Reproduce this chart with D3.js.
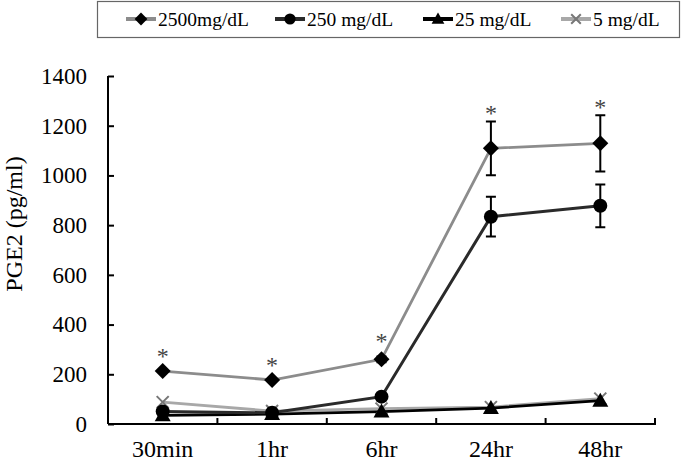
<!DOCTYPE html>
<html><head><meta charset="utf-8">
<script src="https://cdn.jsdelivr.net/npm/d3@7"></script>
<style>body{margin:0;background:#fff}svg{display:block}</style>
</head><body>
<svg id="c" width="683" height="464"></svg>
<script>
const categories = ["30min","1hr","6hr","24hr","48hr"];
const yTicks = [0,200,400,600,800,1000,1200,1400];
const seriesNames = ["2500mg/dL","250 mg/dL","25 mg/dL","5 mg/dL"];
const v2500 = [213,177,260,1109,1129];
const e2500 = [0,0,12,108,113];
const v250 = [50,45,110,834,878];
const e250 = [0,0,0,80,86];
const v25 = [35,40,50,64,94];
const v5 = [88,52,62,68,102];
const significant = [1,1,1,1,1];

const svg = d3.select("#c");
const font = "'Liberation Serif','Times New Roman',serif";
const x = d3.scaleBand().domain(categories).range([108,655]);
const y = d3.scaleLinear().domain([0,1400]).range([424,76]);

const series = [
  {name:seriesNames[0], vals:v2500, err:e2500, line:"#8c8c8c", mark:"#000", sym:"diamond"},
  {name:seriesNames[1], vals:v250, err:e250, line:"#2a2a2a", mark:"#000", sym:"circle"},
  {name:seriesNames[2], vals:v25, err:null, line:"#000", mark:"#000", sym:"triangle"},
  {name:seriesNames[3], vals:v5, err:null, line:"#a8a8a8", mark:"#777", sym:"x"}
];

// axes
const ya = d3.axisLeft(y).tickValues(yTicks).tickSize(-6).tickPadding(21).tickFormat(d3.format("d"));
const gy = svg.append("g").attr("transform","translate(108,0)").call(ya);
gy.select(".domain").attr("stroke","#000").attr("stroke-width",2).attr("d","M0,76V424");
gy.selectAll(".tick line").attr("stroke","#000").attr("stroke-width",2);
gy.selectAll(".tick text").attr("font-family",font).attr("font-size",23).attr("fill","#000");

const xa = d3.axisBottom(x).tickSize(0).tickPadding(0);
const gx = svg.append("g").attr("transform","translate(0,424)").call(xa);
gx.select(".domain").attr("stroke","#000").attr("stroke-width",2).attr("d","M108,0H655V-6");
gx.selectAll(".tick text").attr("font-family",font).attr("font-size",24).attr("fill","#000")
  .attr("y",33).attr("dy",0);
// boundary ticks
const bounds = categories.slice(1).map(c=>x(c));
svg.append("g").selectAll("line").data(bounds).join("line")
  .attr("x1",d=>d).attr("x2",d=>d).attr("y1",424).attr("y2",418)
  .attr("stroke","#000").attr("stroke-width",2);

// y label
svg.append("text").attr("transform","translate(22,224) rotate(-90)")
  .attr("text-anchor","middle").attr("font-family",font).attr("font-size",24).text("PGE2 (pg/ml)");

const cx = c => x(c) + x.bandwidth()/2;

function drawMarker(g, sym, color, px, py, scale){
  const s = scale||1;
  if(sym==="diamond"){
    g.append("path").attr("d",`M${px},${py-8*s}L${px+8*s},${py}L${px},${py+8*s}L${px-8*s},${py}Z`).attr("fill",color);
  } else if(sym==="circle"){
    g.append("circle").attr("cx",px).attr("cy",py).attr("r",7*s).attr("fill",color);
  } else if(sym==="triangle"){
    g.append("path").attr("d",`M${px},${py-8*s}L${px+8*s},${py+6*s}L${px-8*s},${py+6*s}Z`).attr("fill",color);
  } else {
    g.append("path").attr("d",`M${px-6*s},${py-6*s}L${px+6*s},${py+6*s}M${px+6*s},${py-6*s}L${px-6*s},${py+6*s}`)
      .attr("stroke",color).attr("stroke-width",2);
  }
}

const line = d3.line().x((d,i)=>cx(categories[i])).y(d=>y(d));
const plot = svg.append("g");
[3,2,1,0].forEach(k=>{
  const s = series[k];
  plot.append("path").datum(s.vals).attr("d",line).attr("fill","none")
    .attr("stroke",s.line).attr("stroke-width",k===1?3:2.8);
});
[3,2,1,0].forEach(k=>{
  const s = series[k];
  const g = plot.append("g");
  if(s.err){
    s.vals.forEach((v,i)=>{
      const e = s.err[i]; if(!e) return;
      const px = cx(categories[i]);
      g.append("path").attr("d",`M${px},${y(v+e)}V${y(v-e)}M${px-5},${y(v+e)}H${px+5}M${px-5},${y(v-e)}H${px+5}`)
        .attr("stroke","#000").attr("stroke-width",2).attr("fill","none");
    });
  }
  s.vals.forEach((v,i)=>drawMarker(g,s.sym,s.mark,cx(categories[i]),y(v)));
});

// significance asterisks
significant.forEach((f,i)=>{
  if(!f) return;
  const e = e2500[i];
  const top = v2500[i] + e;
  svg.append("text").attr("x",cx(categories[i])).attr("y",y(top)-(e>50?0:7))
    .attr("text-anchor","middle").attr("font-family",font).attr("font-size",24).attr("fill","#444").text("*");
});

// legend
const lg = svg.append("g");
lg.append("rect").attr("x",97.5).attr("y",1.5).attr("width",582).attr("height",36)
  .attr("fill","#fff").attr("stroke","#666").attr("stroke-width",1.2);
const lx = [126,275,423,561];
series.forEach((s,i)=>{
  const g = lg.append("g");
  g.append("line").attr("x1",lx[i]).attr("x2",lx[i]+30).attr("y1",19).attr("y2",19)
    .attr("stroke",s.line).attr("stroke-width",4);
  drawMarker(g,s.sym,s.mark,lx[i]+15,19,0.8);
  g.append("text").attr("x",lx[i]+32).attr("y",26)
    .attr("font-family",font).attr("font-size",19.5).text(s.name);
});
</script>
</body></html>
